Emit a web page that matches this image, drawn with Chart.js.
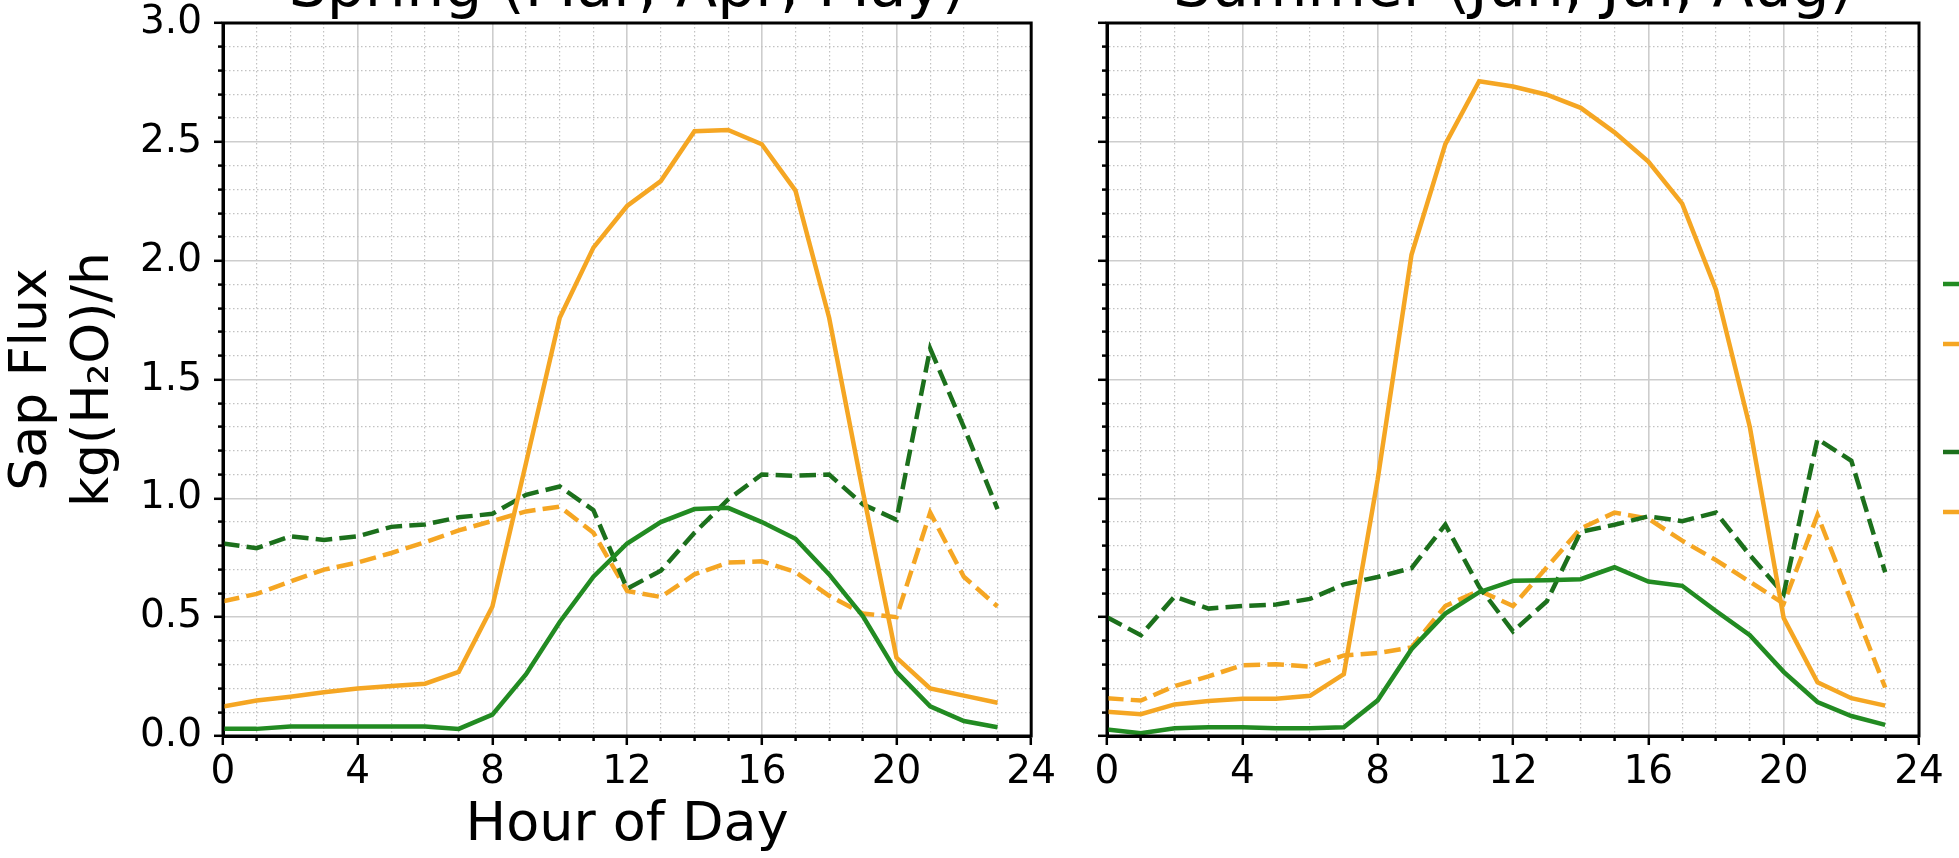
<!DOCTYPE html>
<html>
<head>
<meta charset="utf-8">
<script src="https://cdn.jsdelivr.net/npm/chart.js@4/dist/chart.umd.min.js"></script>
<style>
  html, body { margin: 0; padding: 0; background: #fff; overflow: hidden; }
  #wrap { position: relative; width: 1959px; height: 858px; overflow: hidden; background: #fff; }
  #spring { position: absolute; left: -6px; top: -40px; }
  #summer { position: absolute; left: 1060px; top: -40px; }
</style>
</head>
<body>
<div id="wrap">
  <canvas id="spring" width="1066" height="900"></canvas>
  <canvas id="summer" width="1021" height="884"></canvas>
</div>
<script>
// Data (kg H2O per hour, by hour of day)
const hours = [0,1,2,3,4,5,6,7,8,9,10,11,12,13,14,15,16,17,18,19,20,21,22,23];

const springGreen = [0.03,0.03,0.04,0.04,0.04,0.04,0.04,0.03,0.09,0.26,0.48,0.67,0.81,0.90,0.955,0.96,0.90,0.83,0.68,0.505,0.27,0.125,0.063,0.037];
const springOrange = [0.124,0.149,0.165,0.184,0.20,0.21,0.22,0.27,0.545,1.15,1.76,2.055,2.23,2.335,2.545,2.55,2.49,2.295,1.76,1.03,0.33,0.20,0.17,0.14];
const springGreenDash = [0.81,0.79,0.84,0.825,0.84,0.88,0.89,0.92,0.935,1.015,1.05,0.95,0.62,0.695,0.855,0.995,1.10,1.095,1.10,0.975,0.91,1.63,1.30,0.955];
const springOrangeDash = [0.567,0.598,0.65,0.70,0.73,0.77,0.815,0.865,0.905,0.945,0.965,0.855,0.61,0.585,0.68,0.73,0.735,0.69,0.59,0.515,0.50,0.94,0.67,0.545];

const summerGreen = [0.027,0.012,0.033,0.037,0.037,0.033,0.033,0.037,0.15,0.365,0.515,0.605,0.653,0.655,0.66,0.71,0.65,0.632,0.526,0.424,0.27,0.143,0.084,0.047];
const summerOrange = [0.102,0.092,0.133,0.147,0.157,0.157,0.169,0.26,1.08,2.025,2.49,2.755,2.733,2.698,2.643,2.54,2.417,2.24,1.878,1.30,0.496,0.226,0.159,0.128];
const summerGreenDash = [0.50,0.424,0.587,0.536,0.547,0.553,0.577,0.638,0.669,0.706,0.889,0.628,0.44,0.567,0.859,0.889,0.924,0.904,0.94,0.761,0.598,1.25,1.158,0.689];
const summerOrangeDash = [0.159,0.149,0.21,0.251,0.298,0.302,0.292,0.339,0.349,0.373,0.547,0.612,0.547,0.71,0.873,0.94,0.914,0.822,0.74,0.649,0.557,0.93,0.567,0.204];

const seriesLabels = [['Tree A, sunlit crown'], ['Tree B, sunlit crown', '(south slope)'], ['Tree A, shaded crown'], ['Tree B, shaded crown']];
const titles = ['Spring (Mar, Apr, May)', 'Summer (Jun, Jul, Aug)'];
const yTitle = ['Sap Flux', 'kg(H\u2082O)/h'];
const xTitle = 'Hour of Day';

Chart.defaults.font.family = "'DejaVu Sans', sans-serif";
Chart.defaults.color = '#000';

const GREEN = '#228b22';
const DARKGREEN = '#1c701c';
const ORANGE = '#f5a623';
const DASH = [16.6, 7.2];

const isMajorY = v => Math.round(v * 10) % 5 === 0;
const isMajorX = v => Math.round(v) % 4 === 0;

function points(arr) {
  return hours.map((h, i) => ({ x: h, y: arr[i] }));
}

function makeDatasets(g, o, gd, od) {
  const base = { borderWidth: 4.5, pointRadius: 0, fill: false, tension: 0 };
  return [
    { ...base, label: seriesLabels[0], data: points(g), borderColor: GREEN, backgroundColor: GREEN },
    { ...base, label: seriesLabels[1], data: points(o), borderColor: ORANGE, backgroundColor: ORANGE },
    { ...base, label: seriesLabels[2], data: points(gd), borderColor: DARKGREEN, backgroundColor: DARKGREEN, borderDash: DASH },
    { ...base, label: seriesLabels[3], data: points(od), borderColor: ORANGE, backgroundColor: ORANGE, borderDash: DASH }
  ];
}

function xScale(height, showTitle) {
  return {
    type: 'linear', position: 'bottom', min: 0, max: 24,
    afterFit: s => { s.height = height; },
    ticks: {
      stepSize: 1, maxTicksLimit: 40, autoSkip: false, maxRotation: 0, padding: 4,
      font: { size: 39 },
      callback: v => isMajorX(v) ? String(v) : ''
    },
    grid: {
      color: c => (c.tick && isMajorX(c.tick.value)) ? '#cdcdcd' : '#c2c2c2',
      lineWidth: c => (c.tick && isMajorX(c.tick.value)) ? 1.6 : 1.2,
      tickLength: 9, tickColor: '#000', tickWidth: 2.5,
      tickBorderDash: c => (c.tick && isMajorX(c.tick.value)) ? [] : [3, 30]
    },
    border: {
      color: '#000', width: 3,
      dash: c => (c.tick && !isMajorX(c.tick.value)) ? [1.5, 2.5] : []
    },
    title: {
      display: showTitle, text: xTitle, font: { size: 54, lineHeight: 1.2 },
      padding: { top: 0, bottom: 2 }
    }
  };
}

function yScale(width, showLabels) {
  return {
    type: 'linear', position: 'left', min: 0, max: 3,
    afterFit: s => { s.width = width; },
    ticks: {
      stepSize: 0.1, maxTicksLimit: 40, autoSkip: false, display: showLabels, padding: 12,
      font: { size: 39 },
      callback: v => isMajorY(v) ? v.toFixed(1) : ''
    },
    grid: {
      color: c => (c.tick && isMajorY(c.tick.value)) ? '#cdcdcd' : '#c2c2c2',
      lineWidth: c => (c.tick && isMajorY(c.tick.value)) ? 1.6 : 1.2,
      tickLength: 9, tickColor: '#000', tickWidth: 2.5,
      tickBorderDash: c => (c.tick && isMajorY(c.tick.value)) ? [] : [20, 4],
      tickBorderDashOffset: c => (c.tick && isMajorY(c.tick.value)) ? 0 : 20
    },
    border: {
      color: '#000', width: 3,
      dash: c => (c.tick && !isMajorY(c.tick.value)) ? [1.5, 2.5] : []
    },
    title: {
      display: showLabels, text: yTitle, font: { size: 52, lineHeight: 1.2 },
      padding: { top: 7, bottom: 0 }
    }
  };
}

// black frame round the plot area
const framePlugin = {
  id: 'frame',
  afterDatasetsDraw(chart) {
    const { ctx, chartArea: a } = chart;
    ctx.save();
    ctx.strokeStyle = '#000';
    ctx.lineWidth = 3;
    ctx.strokeRect(a.left, a.top, a.right - a.left, a.bottom - a.top);
    ctx.restore();
  }
};

function titleOpts(text) {
  return {
    display: true, text, fullSize: false, color: '#000',
    font: { size: 60, weight: 'normal', lineHeight: 1 },
    padding: { top: 0, bottom: 3 }
  };
}

// Spring
new Chart(document.getElementById('spring'), {
  type: 'line',
  data: { datasets: makeDatasets(springGreen, springOrange, springGreenDash, springOrangeDash) },
  options: {
    responsive: false, animation: false,
    layout: { padding: { left: 0, top: 0, right: 26, bottom: 0 } },
    scales: { x: xScale(124, true), y: yScale(229, true) },
    plugins: {
      title: titleOpts(titles[0]),
      legend: { display: false },
      tooltip: { enabled: false }
    }
  },
  plugins: [framePlugin]
});

// Summer
const summerScales = {
  x: xScale(108, false),
  y: yScale(47, false),
  yR: {
    type: 'linear', position: 'right', min: 0, max: 3,
    afterFit: s => { s.width = 12; },
    ticks: { display: false },
    grid: { display: false, drawTicks: false },
    border: { display: false }
  }
};

new Chart(document.getElementById('summer'), {
  type: 'line',
  data: { datasets: makeDatasets(summerGreen, summerOrange, summerGreenDash, summerOrangeDash) },
  options: {
    responsive: false, animation: false,
    layout: { padding: 0 },
    scales: summerScales,
    plugins: {
      title: titleOpts(titles[1]),
      legend: {
        display: true, position: 'right', align: 'center', maxWidth: 150,
        labels: {
          usePointStyle: true, pointStyle: 'line', pointStyleWidth: 40,
          padding: 12, color: '#000',
          font: { size: 40, lineHeight: 1.2 }
        }
      },
      tooltip: { enabled: false }
    }
  },
  plugins: [framePlugin]
});
</script>
</body>
</html>
